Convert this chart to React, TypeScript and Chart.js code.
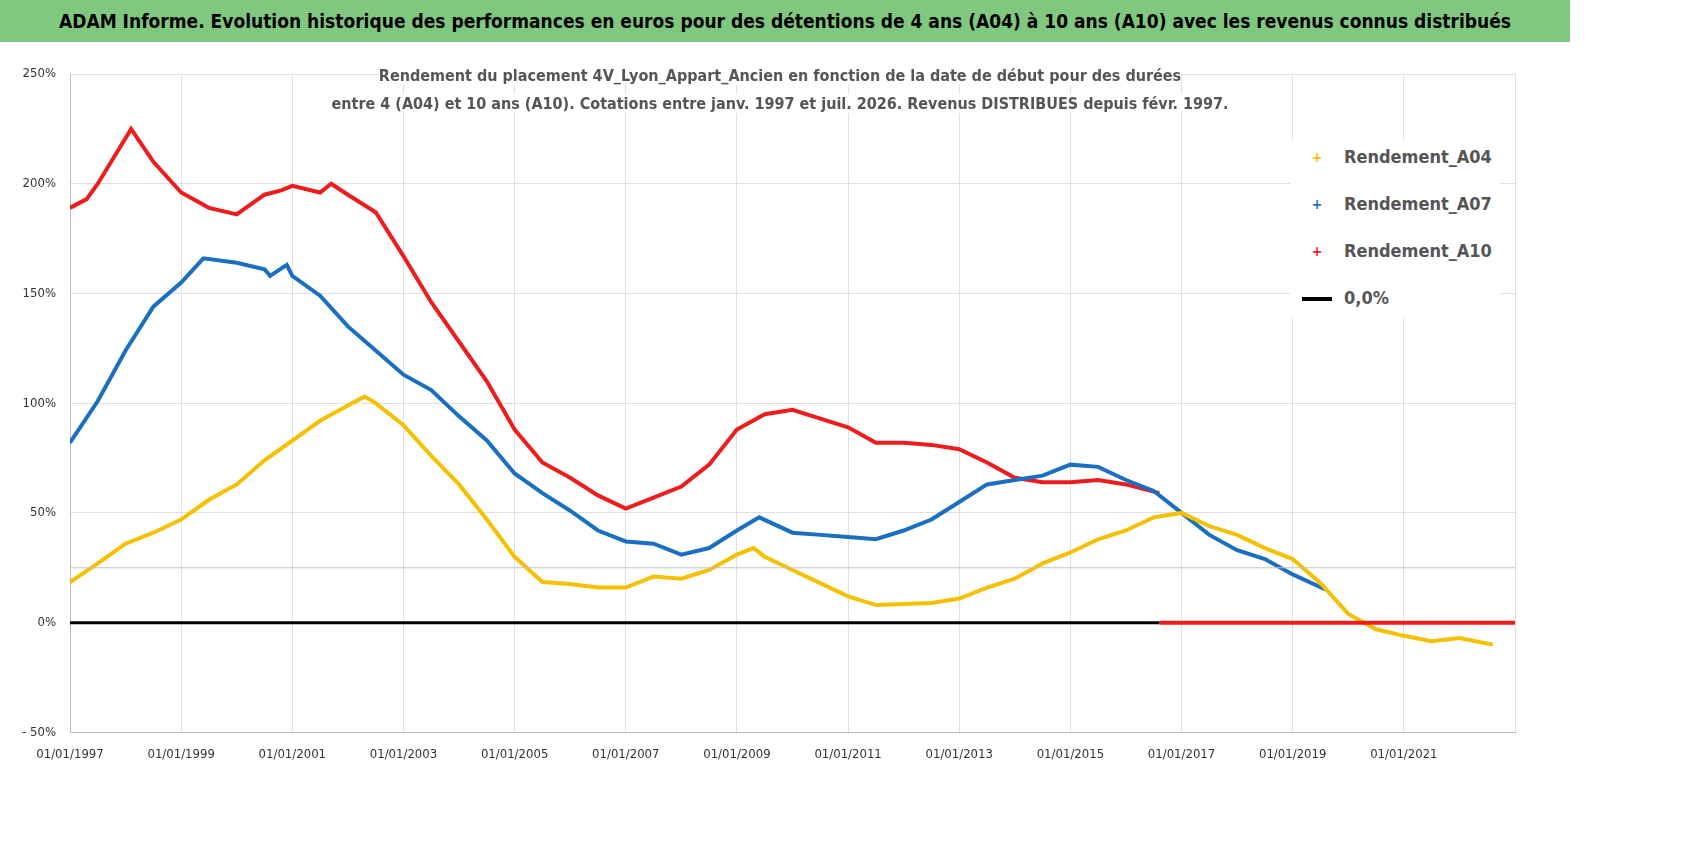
import React, { useEffect, useRef } from "react";
import { Chart, registerables } from "chart.js";
Chart.register(...registerables);

const yearsA04 = [1997,1997.5,1998,1998.5,1999,1999.5,2000,2000.5,2001,2001.5,2002,2002.3,2002.5,2003,2003.5,2004,2004.5,2005,2005.5,2006,2006.5,2007,2007.5,2008,2008.5,2009,2009.3,2009.5,2010,2010.5,2011,2011.5,2012,2012.5,2013,2013.5,2014,2014.5,2015,2015.5,2016,2016.5,2017,2017.5,2018,2018.5,2019,2019.5,2020,2020.5,2021,2021.5,2022,2022.6];
const valsA04 = [18.5,27,36,41,47,56,63,74,83,92,99,103,100,90,76,63,47,30,18.5,17.6,16,16,21,20,24,31,34,30,24,18,12,8,8.5,9,11,16,20,27,32,38,42,48,50,44,40,34,29,18,4,-3,-6,-8.5,-7,-10];
const yearsA07 = [1997,1997.5,1998,1998.5,1999,1999.4,2000,2000.5,2000.6,2000.9,2001,2001.5,2002,2002.5,2003,2003.5,2004,2004.5,2005,2005.5,2006,2006.5,2007,2007.5,2008,2008.5,2009,2009.4,2010,2010.5,2011,2011.5,2012,2012.5,2013,2013.5,2014,2014.5,2015,2015.5,2016,2016.5,2017,2017.5,2018,2018.5,2019,2019.6];
const valsA07 = [82,101,124,144,155,166,164,161,158,163,158,149,135,124,113,106,94,83,68,59,51,42,37,36,31,34,42,48,41,40,39,38,42,47,55,63,65,67,72,71,65,60,50,40,33,29,22,15];
const yearsA10 = [1997,1997.3,1997.5,1998.1,1998.5,1999,1999.5,2000,2000.5,2000.8,2001,2001.5,2001.7,2002,2002.5,2003,2003.5,2004,2004.5,2005,2005.5,2006,2006.5,2007,2007.5,2008,2008.5,2009,2009.5,2010,2010.5,2011,2011.5,2012,2012.5,2013,2013.5,2014,2014.5,2015,2015.5,2016,2016.6];
const valsA10 = [189,193,200,225,210,196,189,186,195,197,199,196,200,195,187,167,146,128,110,88,73,66,58,52,57,62,72,88,95,97,93,89,82,82,81,79,73,66,64,64,65,63,59];
const yearsA10Zero = [2016.6,2017,2018,2019,2020,2021,2022,2023];
const valsA10Zero = [0,0,0,0,0,0,0,0];
const yearsZero = [1997,2016.6];
const valsZero = [0,0];
const yearsRef25 = [1997,2023];
const valsRef25 = [25,25];

const TITLE = "ADAM Informe. Evolution historique des performances en euros pour des détentions de 4 ans (A04) à 10 ans (A10) avec les revenus connus distribués";
const SUB1 = "Rendement du placement 4V_Lyon_Appart_Ancien en fonction de la date de début pour des durées";
const SUB2 = "entre 4 (A04) et 10 ans (A10). Cotations entre janv. 1997 et juil. 2026. Revenus DISTRIBUES depuis févr. 1997.";
const FONT = "'DejaVu Sans Condensed', 'Liberation Sans', Arial, sans-serif";

const zip = (xs: number[], ys: number[]) => xs.map((x, i) => ({ x, y: ys[i] }));

export default function App() {
  const ref = useRef<HTMLCanvasElement>(null);
  useEffect(() => {
    document.body.style.margin = "0";
    const mk = (label: string, data: any[], color: string, w = 4) => ({
      label, data, borderColor: color, backgroundColor: color, borderWidth: w, pointRadius: 0, tension: 0,
    });
    const chart = new Chart(ref.current!, {
      type: "line",
      data: {
        datasets: [
          mk("ref25", zip(yearsRef25, valsRef25), "#c0c0c0", 1),
          mk("0,0%", zip(yearsZero, valsZero), "#000000", 3),
          mk("Rendement_A10z", zip(yearsA10Zero, valsA10Zero), "#ee1c1c", 4),
          mk("Rendement_A04", zip(yearsA04, valsA04), "#f5c000"),
          mk("Rendement_A07", zip(yearsA07, valsA07), "#1a6fc0"),
          mk("Rendement_A10", zip(yearsA10, valsA10), "#ee1c1c"),
        ],
      },
      options: {
        animation: false, responsive: false, maintainAspectRatio: false,
        layout: { padding: { left: 8, right: 183, top: 70, bottom: 4 } },
        plugins: { legend: { display: false }, tooltip: { enabled: false } },
        scales: {
          x: {
            type: "linear", min: 1997, max: 2023,
            ticks: { stepSize: 2, color: "#333", font: { family: FONT, size: 13 }, callback: (v: any) => (v >= 2023 ? "" : `01/01/${v}`), maxRotation: 0, padding: 14 },
            grid: { color: "#e0e0e0", drawTicks: false },
            border: { color: "#bbb" },
          },
          y: {
            min: -50, max: 250,
            afterFit: (s: any) => { s.width = 62; },
            ticks: { stepSize: 50, color: "#333", font: { family: FONT, size: 13 }, callback: (v: any) => (v < 0 ? `- ${-v}%` : `${v}%`), padding: 14 },
            grid: { color: "#e0e0e0", drawTicks: false },
            border: { color: "#bbb" },
          },
        },
      },
    });
    return () => chart.destroy();
  }, []);

  const legend = [
    ["Rendement_A04", "#f5c000", "cross"],
    ["Rendement_A07", "#1a6fc0", "cross"],
    ["Rendement_A10", "#ee1c1c", "cross"],
    ["0,0%", "#000", "line"],
  ];
  return (
    <div style={{ position: "relative", width: 1698, height: 856, background: "#fff", fontFamily: FONT }}>
      <div style={{ position: "absolute", left: 0, top: 0, width: 1570, height: 42, background: "#80c880", display: "flex", alignItems: "center", justifyContent: "center", fontWeight: "bold", fontSize: 19, color: "#000", whiteSpace: "nowrap" }}>{TITLE}</div>
      <canvas ref={ref} width={1698} height={776} style={{ position: "absolute", left: 0, top: 4 }} />
      <div style={{ position: "absolute", left: 280, top: 62, width: 1000, textAlign: "center", fontWeight: "bold", fontSize: 16, color: "#555", lineHeight: "28px", whiteSpace: "nowrap" }}>
        <span style={{ background: "#fff" }}>{SUB1}</span><br /><span style={{ background: "#fff" }}>{SUB2}</span>
      </div>
      <div style={{ position: "absolute", left: 1290, top: 140, width: 210, height: 178, background: "#fff" }}>
        {legend.map(([t, c, k], i) => (
          <div key={t} style={{ position: "absolute", left: 12, top: 6 + i * 47, display: "flex", alignItems: "center", fontWeight: "bold", fontSize: 18, color: "#555" }}>
            <span style={{ width: 30, display: "inline-block", textAlign: "center", color: c, fontSize: 14 }}>
              {k === "cross" ? "+" : <span style={{ display: "inline-block", width: 30, height: 4, background: c, verticalAlign: "middle" }} />}
            </span>
            <span style={{ marginLeft: 12 }}>{t}</span>
          </div>
        ))}
      </div>
    </div>
  );
}
